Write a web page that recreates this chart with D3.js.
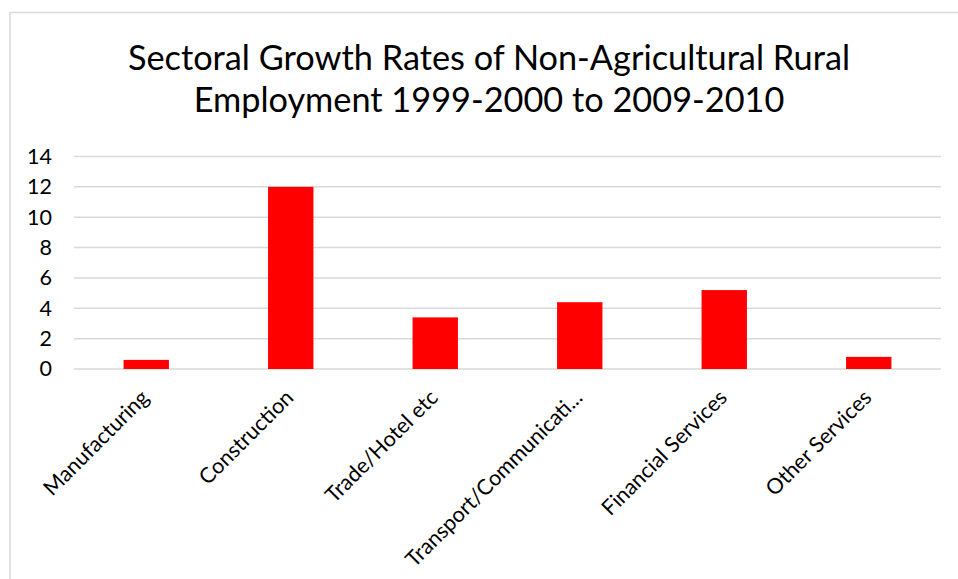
<!DOCTYPE html>
<html>
<head>
<meta charset="utf-8">
<script src="https://cdn.jsdelivr.net/npm/d3@7"></script>
<style>
  body { margin: 0; background: #fff; }
  text { font-family: Lato, "Noto Sans", sans-serif; fill: #000; }
</style>
</head>
<body>
<div id="vis"></div>
<script>
// Data
let categories = ['Manufacturing', 'Construction', 'Trade/Hotel etc',
                  'Transport/Communicati...', 'Financial Services', 'Other Services'];
let growthRates = [0.6, 12.0, 3.4, 4.4, 5.2, 0.8];
let yTicks = [0, 2, 4, 6, 8, 10, 12, 14];
let titleLines = ['Sectoral Growth Rates of Non-Agricultural Rural',
                  'Employment 1999-2000 to 2009-2010'];

let width = 958,
    height = 579;

let margin = { top: 156.5, bottom: 210, left: 74, right: 17 };

let svg = d3.select('#vis')
            .append('svg')
            .attr('width', width)
            .attr('height', height);

// Chart frame (left and top edges visible)
svg.append('rect')
    .attr('x', 10)
    .attr('y', 12.5)
    .attr('width', width + 20)
    .attr('height', height + 20)
    .attr('fill', 'none')
    .attr('stroke', '#d9d9d9')
    .attr('stroke-width', 1.5);

// Scales
let xScale = d3.scaleBand()
    .domain(categories)
    .range([margin.left, width - margin.right])
    .paddingInner(0.686)
    .paddingOuter(0.343);

let yScale = d3.scaleLinear()
    .domain([0, 14])
    .range([height - margin.bottom, margin.top]);

// Gridlines
svg.append('g')
    .selectAll('line')
    .data(yTicks)
    .enter()
    .append('line')
    .attr('x1', margin.left)
    .attr('x2', width - margin.right)
    .attr('y1', d => yScale(d))
    .attr('y2', d => yScale(d))
    .attr('stroke', '#d9d9d9')
    .attr('stroke-width', 1.5);

// Y axis labels
let yAxis = svg.append('g')
    .attr('transform', `translate(${margin.left - 22}, 0)`)
    .call(d3.axisLeft(yScale).tickValues(yTicks).tickSize(0).tickPadding(0));
yAxis.select('.domain').remove();
yAxis.attr('font-size', null).attr('font-family', null);
yAxis.selectAll('text')
    .style('font-family', 'Lato, "Noto Sans", sans-serif')
    .style('font-size', '21.5px')
    .attr('fill', '#000');

// Bars
svg.selectAll('rect.bar')
    .data(categories)
    .enter()
    .append('rect')
    .attr('class', 'bar')
    .attr('x', d => xScale(d))
    .attr('y', (d, i) => yScale(growthRates[i]))
    .attr('width', xScale.bandwidth())
    .attr('height', (d, i) => yScale(0) - yScale(growthRates[i]))
    .attr('fill', '#ff0000');

// X axis labels, tilted
let xAxis = svg.append('g')
    .attr('transform', `translate(0, ${yScale(0)})`)
    .call(d3.axisBottom(xScale).tickSize(0).tickPadding(0));
xAxis.select('.domain').remove();
xAxis.attr('font-size', null).attr('font-family', null);
xAxis.selectAll('text')
    .style('font-family', 'Lato, "Noto Sans", sans-serif')
    .style('font-size', '21.5px')
    .attr('fill', '#000')
    .attr('dy', null)
    .attr('y', 0)
    .attr('transform', 'translate(4, 30) rotate(-45)')
    .style('text-anchor', 'end');

// Title
svg.append('g')
    .selectAll('text')
    .data(titleLines)
    .enter()
    .append('text')
    .attr('x', 489)
    .attr('y', (d, i) => 70 + i * 42)
    .text(d => d)
    .style('text-anchor', 'middle')
    .style('font-size', '34.3px');
</script>
</body>
</html>
